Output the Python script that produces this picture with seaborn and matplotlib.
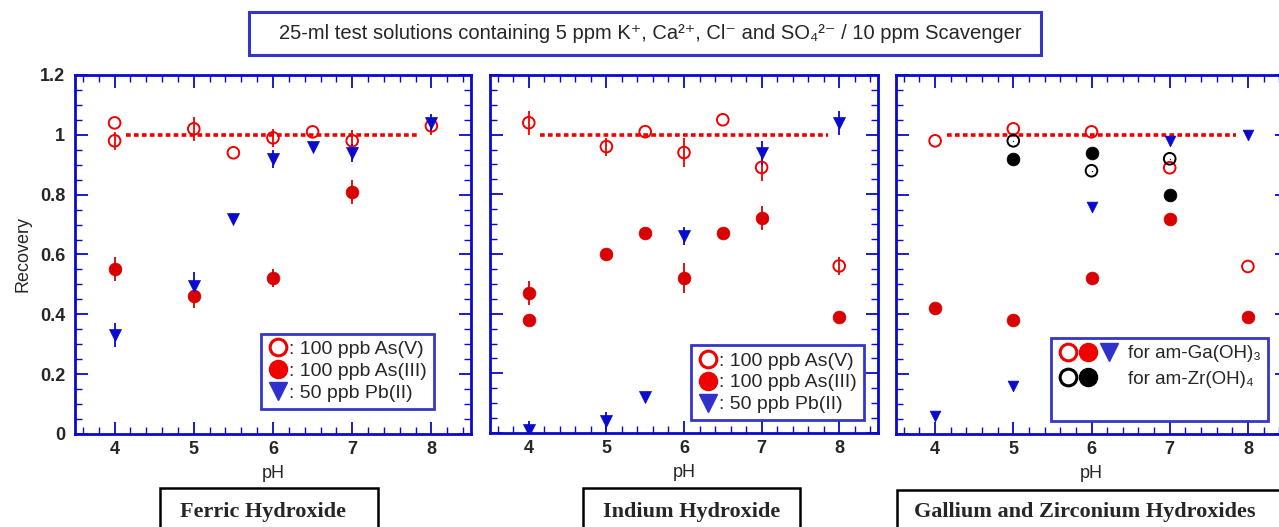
import matplotlib
matplotlib.use("Agg")
import numpy as np
import matplotlib.pyplot as plt
import seaborn as sns
from matplotlib.lines import Line2D
from matplotlib.patches import Rectangle
from matplotlib.legend_handler import HandlerTuple
from matplotlib.ticker import MultipleLocator, FuncFormatter

# ---- data ----
# Ferric hydroxide
fe_asv_x = [4, 4, 5, 5.5, 6, 6.5, 7, 8]
fe_asv_y = [1.04, 0.98, 1.02, 0.94, 0.99, 1.01, 0.98, 1.03]
fe_asv_err = [0, 0.03, 0.04, 0, 0.03, 0, 0.035, 0.03]
fe_as3_x = [4, 5, 6, 7]
fe_as3_y = [0.55, 0.46, 0.52, 0.81]
fe_as3_err = [0.04, 0.04, 0.03, 0.04]
fe_pb_x = [4, 5, 5.5, 6, 6.5, 7, 8]
fe_pb_y = [0.33, 0.495, 0.72, 0.92, 0.96, 0.94, 1.04]
fe_pb_err = [0.04, 0.045, 0, 0.03, 0, 0.03, 0.03]

# Indium hydroxide
in_asv_x = [4, 5, 5.5, 6, 6.5, 7, 8]
in_asv_y = [1.04, 0.96, 1.01, 0.94, 1.05, 0.89, 0.56]
in_asv_err = [0.04, 0.03, 0, 0.05, 0, 0.045, 0.03]
in_as3_x = [4, 4, 5, 5.5, 6, 6.5, 7, 8]
in_as3_y = [0.47, 0.38, 0.60, 0.67, 0.52, 0.67, 0.72, 0.39]
in_as3_err = [0.04, 0, 0, 0, 0.05, 0, 0.04, 0]
in_pb_x = [4, 5, 5.5, 6, 7, 8]
in_pb_y = [0.01, 0.04, 0.12, 0.66, 0.94, 1.04]
in_pb_err = [0, 0.03, 0, 0.03, 0.04, 0.04]

# Gallium / zirconium hydroxides
ga_x = [4, 5, 6, 7, 8]
ga_asv_y = [0.98, 1.02, 1.01, 0.89, 0.56]
ga_as3_y = [0.42, 0.38, 0.52, 0.72, 0.39]
ga_pb_y = [0.06, 0.16, 0.76, 0.98, 1.00]
zr_x = [5, 6, 7]
zr_asv_y = [0.98, 0.88, 0.92]
zr_as3_y = [0.92, 0.94, 0.80]

# 100 % recovery reference line
ref_level = 1.0
ref_start, ref_end = 4.15, 7.85

title = "25-ml test solutions containing 5 ppm K⁺, Ca²⁺, Cl⁻ and SO₄²⁻ / 10 ppm Scavenger"
panel_names = ["Ferric Hydroxide", "Indium Hydroxide",
               "Gallium and Zirconium Hydroxides"]
legend_labels = [": 100 ppb As(V)", ": 100 ppb As(III)", ": 50 ppb Pb(II)"]
ga_zr_labels = ["for am-Ga(OH)₃", "for am-Zr(OH)₄", " "]

RED = "#f00000"
DRED = "#d80000"
BLUE = "#0a0acc"
LBLUE = "#3030cc"
FRAME = "#3535c8"

sns.set_theme(style="ticks")
plt.rcParams["font.family"] = ["Liberation Sans", "DejaVu Sans"]


def points(ax, x, y, err, color, marker, filled, size):
    x = np.asarray(x, float)
    y = np.asarray(y, float)
    if err is not None:
        err = np.asarray(err, float)
        m = err > 0
        ax.vlines(x[m], y[m] - err[m], y[m] + err[m], color=color, lw=1.3, zorder=2)
    if filled:
        sns.scatterplot(x=x, y=y, marker=marker, s=size, color=color,
                        edgecolor=color, linewidth=0.5, ax=ax, zorder=3, legend=False)
    else:
        sns.scatterplot(x=x, y=y, marker=marker, s=size, color="none",
                        edgecolor=color, linewidth=1.4, ax=ax, zorder=3, legend=False)


def style(ax, ylabels):
    ax.set_xlim(3.5, 8.5)
    ax.set_ylim(0, 1.2)
    ax.xaxis.set_major_locator(MultipleLocator(1))
    ax.xaxis.set_minor_locator(MultipleLocator(0.2))
    ax.yaxis.set_major_locator(MultipleLocator(0.2))
    ax.yaxis.set_minor_locator(MultipleLocator(0.05))
    ax.yaxis.set_major_formatter(FuncFormatter(lambda v, p: f"{v:g}"))
    ax.tick_params(which="both", direction="in", top=True, right=True,
                   color=BLUE, labelsize=13)
    ax.tick_params(which="major", length=9, width=1.3)
    ax.tick_params(which="minor", length=5, width=1.0)
    ax.tick_params(axis="x", pad=5)
    ax.tick_params(axis="y", pad=7, labelleft=ylabels)
    for lab in ax.get_xticklabels() + ax.get_yticklabels():
        lab.set_fontweight("bold")
    for sp in ax.spines.values():
        sp.set_visible(True)
        sp.set_color(BLUE)
        sp.set_linewidth(2.0)
    ax.hlines(ref_level, ref_start, ref_end, color=RED, lw=2.6,
              linestyles=(0, (1.3, 0.9)), zorder=1)
    ax.set_xlabel("pH", fontsize=13, labelpad=5)
    ax.set_ylabel("")


def frame_legend(leg):
    fr = leg.get_frame()
    fr.set_edgecolor(FRAME)
    fr.set_linewidth(2.0)
    fr.set_facecolor("white")
    fr.set_alpha(1)


fig = plt.figure(figsize=(12.79, 5.27), dpi=100)
W, H = 1279, 527


def add_axes(left, right, top, bottom):
    return fig.add_axes([left / W, 1 - bottom / H, (right - left) / W, (bottom - top) / H])


ax1 = add_axes(75, 471, 75, 434)
ax2 = add_axes(490, 878, 75, 433)
ax3 = add_axes(896, 1287, 75, 434)

# panel 1
points(ax1, fe_asv_x, fe_asv_y, fe_asv_err, RED, "o", False, 70)
points(ax1, fe_as3_x, fe_as3_y, fe_as3_err, DRED, "o", True, 85)
points(ax1, fe_pb_x, fe_pb_y, fe_pb_err, BLUE, "v", True, 75)
style(ax1, True)
ax1.set_ylabel("Recovery", fontsize=13, labelpad=6)

# panel 2
points(ax2, in_asv_x, in_asv_y, in_asv_err, RED, "o", False, 70)
points(ax2, in_as3_x, in_as3_y, in_as3_err, DRED, "o", True, 85)
points(ax2, in_pb_x, in_pb_y, in_pb_err, BLUE, "v", True, 75)
style(ax2, False)

# panel 3
points(ax3, ga_x, ga_asv_y, None, RED, "o", False, 70)
points(ax3, ga_x, ga_as3_y, None, DRED, "o", True, 85)
points(ax3, ga_x, ga_pb_y, None, BLUE, "v", True, 60)
points(ax3, zr_x, zr_asv_y, None, "black", "o", False, 70)
sns.scatterplot(x=zr_x, y=zr_asv_y, marker=".", s=4, color="black", ax=ax3, zorder=4, legend=False)
points(ax3, zr_x, zr_as3_y, None, "black", "o", True, 85)
style(ax3, False)

# legends
h_open = Line2D([], [], marker="o", ls="", mfc="none", mec=RED, mew=2.2, ms=12)
h_fill = Line2D([], [], marker="o", ls="", mfc=RED, mec=RED, ms=13)
h_tri = Line2D([], [], marker="v", ls="", mfc=LBLUE, mec=LBLUE, ms=13)
for ax, anchor in [(ax1, (0.47, 0.07)), (ax2, (0.518, 0.036))]:
    leg = ax.legend([h_open, h_fill, h_tri], legend_labels, loc="lower left",
                    bbox_to_anchor=anchor, fontsize=14, handlelength=1.0,
                    handletextpad=0.1, borderpad=0.35, labelspacing=0.22,
                    frameon=True, fancybox=False, borderaxespad=0)
    frame_legend(leg)

k_open = Line2D([], [], marker="o", ls="", mfc="none", mec="black", mew=2.2, ms=12)
k_fill = Line2D([], [], marker="o", ls="", mfc="black", mec="black", ms=13)
blank = Line2D([], [], ls="", marker="")
leg3 = ax3.legend([(h_open, h_fill, h_tri), (k_open, k_fill, blank), blank],
                  ga_zr_labels,
                  handler_map={tuple: HandlerTuple(ndivide=None, pad=0.1)},
                  loc="lower left", bbox_to_anchor=(0.396, 0.036), fontsize=13.5,
                  handlelength=3.2, handletextpad=0.5, borderpad=0.4,
                  labelspacing=0.45, frameon=True, fancybox=False, borderaxespad=0)
frame_legend(leg3)

# title box
fig.add_artist(Rectangle((249 / W, 1 - 55 / H), 792 / W, 43 / H, transform=fig.transFigure,
                         fill=False, edgecolor=FRAME, lw=2.2))
fig.text(650 / W, 1 - 34 / H, title, ha="center", va="center", fontsize=14.5)

# hydroxide name boxes along the bottom
for (x0, x1, top) in [(160, 378, 488), (583, 800, 488), (897, 1300, 490)]:
    fig.add_artist(Rectangle((x0 / W, 1 - 540 / H), (x1 - x0) / W, (540 - top) / H,
                             transform=fig.transFigure, facecolor="white",
                             edgecolor="black", lw=1.8))
for cx, name in zip([263, 692, 1085], panel_names):
    fig.text(cx / W, 1 - 512 / H, name, ha="center", va="center", fontsize=16,
             fontweight="bold", family="Liberation Serif")

fig.savefig("out.png", dpi=100)
